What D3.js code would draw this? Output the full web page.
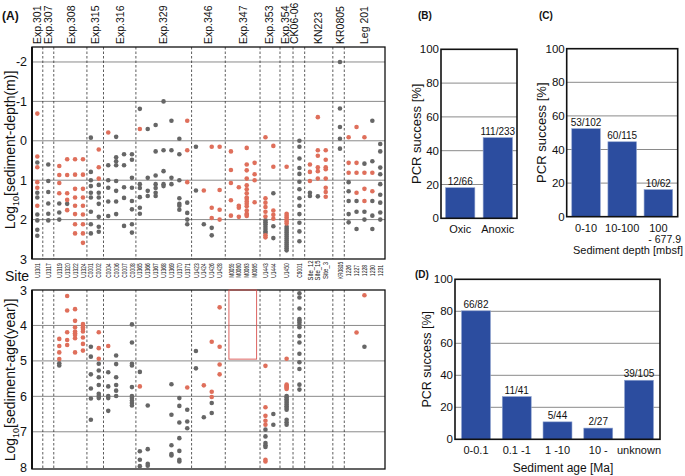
<!DOCTYPE html>
<html>
<head>
<meta charset="utf-8">
<script src="https://cdn.jsdelivr.net/npm/d3@7"></script>
<style>
body { margin: 0; background: #fff; }
text { font-family: "Liberation Sans", Arial, Helvetica, sans-serif; fill: #111; }
</style>
</head>
<body>
<div class="chart"></div>
<script>
// ---------- data ----------
const expeditions = ["Exp.301", "Exp.307", "Exp.308", "Exp.315", "Exp.316", "Exp.329", "Exp.346",
  "Exp.347", "Exp.353", "Exp.354", "CK06-06", "KN223", "KR0805", "Leg 201"];
const siteGroups = [
  ["U1301"], ["U1317"], ["U1319", "U1320", "U1322", "U1324"], ["C0001", "C0002"],
  ["C0004", "C0006", "C0007", "C0008"],
  ["U1365", "U1366", "U1367", "U1368", "U1369", "U1370", "U1371"],
  ["U1423", "U1424", "U1426", "U1428"], ["M0059", "M0060", "M0063", "M0065"],
  ["U1443", "U1444"], ["U1450"], ["C9001"], ["Site_12", "Site_15", "Site_3"], ["KR0805"],
  ["1226", "1227", "1228", "1230", "1231"]
];

// log10 sediment depth (m), red = positive, gray = negative
const depthRed = [
  ["U1301", [-0.69, 0.40, 0.67, 1.05, 1.19, 1.65]],
  ["U1319", [0.64, 0.87, 1.07, 1.33]],
  ["U1320", [0.47, 0.87, 1.33, 1.5, 1.76]],
  ["U1322", [0.47, 0.86, 1.22, 1.44, 1.65, 1.86, 2.12, 2.35]],
  ["U1324", [0.47, 0.86, 1.22, 1.44, 1.65, 1.87, 2.12, 2.35, 2.59]],
  ["C0002", [0.22, 0.67, 0.96]],
  ["C0004", [-0.21]],
  ["U1365", [-0.3]],
  ["U1371", [-0.51, 0.24, 1.05]],
  ["U1424", [1.26]],
  ["U1426", [0.15, 1.7, 1.96]],
  ["U1428", [0.15, 1.25, 1.75, 2.0]],
  ["M0059", [0.27, 0.74, 1.07, 1.51, 1.9]],
  ["M0060", [1.18, 1.65, 1.7, 1.93]],
  ["M0063", [0.18, 0.6, 0.75, 0.96, 1.13, 1.23, 1.33, 1.44, 1.48, 1.54, 1.6, 1.66, 1.77, 1.85, 1.88, 1.91]],
  ["M0065", [0.56, 0.85, 1.0, 1.56]],
  ["U1443", [-0.09, 1.46, 1.57, 1.68, 1.8, 1.92, 2.4, 2.45]],
  ["U1444", [0.13, 0.66, 1.77, 1.88, 1.98]],
  ["U1450", [0.66, 1.85, 1.9, 1.95, 2.0, 2.05, 2.1]],
  ["Site_12", [0.6, 0.79, 1.02]],
  ["Site_15", [-0.6, 0.24, 0.38, 0.67, 0.77, 0.96]],
  ["Site_3", [0.24, 0.48, 0.67, 0.72, 0.96, 1.19, 1.3, 1.42]],
  ["1226", [-0.09, 0.56, 0.81]],
  ["1227", [-0.35, 0.56, 0.81, 1.32]],
  ["1228", [-0.09, 0.81, 1.22, 1.53]],
  ["1230", [0.81, 1.28]]
];
const depthGray = [
  ["U1301", [0.55, 1.32, 1.44, 1.87, 2.02, 2.26, 2.41]],
  ["U1317", [0.60, 1.02, 1.30, 1.59, 1.85, 2.02]],
  ["U1319", [1.59, 1.82, 2.0]],
  ["U1320", [1.6]],
  ["C0001", [-0.08, 0.79, 1.0, 1.15, 1.32, 1.44, 1.8, 2.12, 2.35]],
  ["C0002", [1.12, 1.32, 1.44, 1.6, 1.93, 2.18, 2.31]],
  ["C0004", [0.62, 1.0, 1.19, 1.54, 1.91]],
  ["C0006", [-0.1, 0.42, 0.52, 0.62, 1.02, 1.27, 1.54, 1.86]],
  ["C0007", [0.34, 0.62, 1.18, 1.45, 2.16]],
  ["C0008", [0.34, 0.48, 0.94, 1.19, 1.53, 1.74, 2.12, 2.33]],
  ["U1365", [-0.81, 1.1, 1.2, 1.43, 1.7, 1.85]],
  ["U1366", [-0.3, 0.94, 1.27, 1.4]],
  ["U1367", [-0.4, 0.27, 0.88, 1.1, 1.2, 1.32, 1.4]],
  ["U1368", [-1.0, 0.24, 0.77, 1.1, 1.15]],
  ["U1369", [-0.51, 0.24, 0.94, 1.1]],
  ["U1370", [-0.05, 0.34, 1.0, 1.46, 1.6, 1.65, 1.75]],
  ["U1371", [1.57, 1.83, 2.0, 2.12]],
  ["U1423", [0.15, 1.26]],
  ["U1424", [2.12]],
  ["U1426", [2.21, 2.4]],
  ["U1443", [2.02, 2.07, 2.12, 2.18, 2.24, 2.3, 2.34]],
  ["U1444", [1.33, 2.17, 2.47]],
  ["U1450", [2.18, 2.23, 2.28, 2.33, 2.38, 2.43, 2.48, 2.53, 2.58, 2.63, 2.68, 2.73, 2.78]],
  ["C9001", [0.0, 0.15, 0.45, 0.69, 0.84, 1.04, 1.23, 1.46, 1.65, 1.86, 2.08, 2.3, 2.55]],
  ["Site_12", [1.32, 1.4]],
  ["Site_15", [1.41]],
  ["KR0805", [-2.0, -0.82, -0.35, -0.05, 0.2]],
  ["1226", [1.05, 1.28, 1.53, 1.86, 2.07]],
  ["1227", [1.53, 1.8, 2.24]],
  ["1228", [0.58, 1.8, 2.0]],
  ["1230", [-0.51, 0.52, 1.53, 1.9, 2.24]],
  ["1231", [0.08, 0.27, 0.68, 0.85, 1.1, 1.37, 1.57, 1.82, 2.0]]
];

// log10 sediment age (year)
const ageRed = [
  ["U1319", [4.38, 4.58, 4.76, 4.95]],
  ["U1320", [3.17, 3.58, 4.19, 4.41, 4.55]],
  ["U1322", [3.54, 3.87, 4.05, 4.17, 4.22, 4.27, 4.36, 4.76]],
  ["U1324", [3.96, 4.0, 4.05, 4.1, 4.17, 4.34, 4.52, 4.71]],
  ["C0002", [4.19, 4.64, 4.94]],
  ["C0004", [4.58]],
  ["U1365", [5.72]],
  ["U1371", [5.75]],
  ["U1424", [5.69]],
  ["U1426", [4.46, 5.87, 6.02]],
  ["U1428", [3.49, 4.6, 5.1, 5.38]],
  ["U1443", [5.14, 6.31, 6.55, 6.69, 6.8, 7.79, 7.84]],
  ["U1450", [4.94, 5.67, 5.7, 5.73, 5.76, 5.79]],
  ["1227", [4.2]],
  ["1228", [3.15]]
];
const ageGray = [
  ["U1319", [5.07, 5.13]],
  ["C0001", [4.6, 4.88, 5.38, 5.78, 6.06, 6.66]],
  ["C0002", [5.08, 5.27, 5.46, 5.68, 5.93, 5.99, 6.05]],
  ["C0004", [5.32, 5.72, 5.99, 6.05, 6.41]],
  ["C0006", [4.85, 5.09, 5.46, 5.68, 5.84, 5.99]],
  ["C0008", [3.97, 4.48, 5.08, 5.13, 5.74, 5.99, 6.05, 6.12, 6.19, 6.26]],
  ["U1365", [5.31, 7.55, 7.79, 7.97]],
  ["U1366", [6.26, 7.49, 7.9, 7.96]],
  ["U1369", [5.66, 6.52, 7.38, 7.63, 7.67]],
  ["U1370", [6.05, 6.27, 6.74, 7.18, 7.54, 7.79, 7.84]],
  ["U1371", [6.38, 6.71, 6.9]],
  ["U1423", [4.72, 5.21]],
  ["U1424", [6.59]],
  ["U1426", [6.19, 6.47]],
  ["U1443", [6.94, 7.13, 7.32, 7.38, 7.43]],
  ["U1444", [6.5, 6.8]],
  ["U1450", [5.99, 6.03, 6.08, 6.13, 6.18, 6.23, 6.28, 6.33, 6.38, 6.66, 6.73, 6.8]],
  ["C9001", [3.09, 3.21, 3.52, 3.82, 3.86, 3.92, 3.99, 4.05, 4.3, 4.48, 4.8, 5.04, 5.23, 5.67, 5.81]],
  ["1228", [4.6]]
];
const ageBoxSites = ["M0059", "M0065"];
const ageBoxRange = [3, 4.95];

// PCR success panels
const oxCats = ["Oxic", "Anoxic"];
const oxVals = [18.1, 47.7];
const oxLabels = ["12/66", "111/233"];
const dCats = ["0-10", "10-100", "100"];
const dVals = [52.4, 44.6, 16.1];
const dLabels = ["53/102", "60/115", "10/62"];
const aCats = ["0-0.1", "0.1 -1", "1 -10", "10 -", "unknown"];
const aVals = [80.3, 26.7, 10.9, 7.0, 36.9];
const aLabels = ["66/82", "11/41", "5/44", "2/27", "39/105"];
const pctTicks = [0, 20, 40, 60, 80, 100];

// ---------- layout ----------
const RED = '#df6f5b', GRAY = '#666666', BLUE = '#2c4d9f';
const GROUP_GAP = [0, 0.39, 0.39, 0, 0.2, 0, 0.1, 0.43, 0.37, 0.68, 0.62, 0.33, 0.8, 0.1];
const A = { left: 32, right: 385 };

const svg = d3.select('.chart').append('svg')
  .attr('width', 685).attr('height', 476);

// slot index for each site (groups separated by a small gap)
const slot = {};
let s = 0;
siteGroups.forEach((g, k) => {
  s += GROUP_GAP[k];
  g.forEach(site => { slot[site] = s; s += 1; });
});
const sMax = s - 1;
const x = d3.scaleLinear().domain([0, sMax]).range([37.3, 37.3 + 7.9 * sMax]);
const xs = site => x(slot[site]);

const yDepth = d3.scaleLinear().domain([-2.38, 3]).range([47, 259]);
const yAge = d3.scaleLinear().domain([3, 8.05]).range([290, 469]);

function panelA(y, grid, ticks) {
  const g = svg.append('g');
  const [y0, y1] = y.range();
  g.selectAll('.grid').data(grid).enter().append('line')
    .attr('x1', A.left).attr('x2', A.right)
    .attr('y1', d => y(d)).attr('y2', d => y(d))
    .attr('stroke', '#8a8a8a').attr('stroke-width', 1);
  // separators between expeditions
  const seps = siteGroups.slice(1).map((grp, k) => {
    const prev = siteGroups[k];
    return (xs(prev[prev.length - 1]) + xs(grp[0])) / 2;
  });
  g.selectAll('.sep').data(seps).enter().append('line')
    .attr('x1', d => d).attr('x2', d => d).attr('y1', y0).attr('y2', y1)
    .attr('stroke', '#333').attr('stroke-width', 0.8).attr('stroke-dasharray', '2.5,2');
  g.append('rect').attr('x', A.left).attr('y', y0)
    .attr('width', A.right - A.left).attr('height', y1 - y0)
    .attr('fill', 'none').attr('stroke', '#111').attr('stroke-width', 1.3);
  g.append('line').attr('x1', A.left).attr('x2', A.left).attr('y1', y0).attr('y2', y1)
    .attr('stroke', '#111').attr('stroke-width', 2);
  g.selectAll('.tk').data(ticks).enter().append('text')
    .attr('x', A.left - 5).attr('y', d => y(d)).attr('dy', '0.36em')
    .attr('text-anchor', 'end').style('font-size', '12.5px').text(d => d);
  return g;
}

function dots(g, series, y, color) {
  const pts = series.flatMap(([site, vals]) => vals.map(v => ({ site, v })));
  g.selectAll(null).data(pts).enter().append('circle')
    .attr('cx', d => xs(d.site)).attr('cy', d => y(d.v))
    .attr('r', 2.3).attr('fill', color);
}

const gTop = panelA(yDepth, [-2, -1, 0, 1, 2], [-2, -1, 0, 1, 2, 3]);
dots(gTop, depthGray, yDepth, GRAY);
dots(gTop, depthRed, yDepth, RED);

const gBot = panelA(yAge, [4, 5, 6, 7], [3, 4, 5, 6, 7, 8]);
gBot.append('rect')
  .attr('x', xs(ageBoxSites[0]) - 2).attr('y', yAge(ageBoxRange[0]))
  .attr('width', xs(ageBoxSites[1]) - xs(ageBoxSites[0]) + 4)
  .attr('height', yAge(ageBoxRange[1]) - yAge(ageBoxRange[0]))
  .attr('fill', 'none').attr('stroke', '#d9534f').attr('stroke-width', 0.9);
dots(gBot, ageGray, yAge, GRAY);
dots(gBot, ageRed, yAge, RED);

// expedition labels
const LABEL_NUDGE = { 'Exp.354': -1.5, 'CK06-06': -5.5 };
expeditions.forEach((e, k) => {
  const grp = siteGroups[k];
  const cx = (xs(grp[0]) + xs(grp[grp.length - 1])) / 2 + (LABEL_NUDGE[e] || 0);
  svg.append('text')
    .attr('transform', `translate(${cx},44) rotate(-90)`)
    .attr('dy', '0.36em').style('font-size', '10.5px').text(e);
});

// site labels
siteGroups.flat().forEach(site => {
  svg.append('text')
    .attr('transform', `translate(${xs(site)},270.5) rotate(-90)`)
    .attr('text-anchor', 'middle').attr('dy', '0.35em')
    .attr('textLength', site.length * 2.85).attr('lengthAdjust', 'spacingAndGlyphs')
    .style('font-size', '7.5px').text(site);
});
svg.append('text').attr('x', 5).attr('y', 281).style('font-size', '14px').text('Site');
svg.append('text').attr('x', 2).attr('y', 20).style('font-size', '12px')
  .style('font-weight', 'bold').text('(A)');

function logTitle(cx, cy, rest) {
  const t = svg.append('text')
    .attr('transform', `translate(${cx},${cy}) rotate(-90)`)
    .attr('text-anchor', 'middle').style('font-size', '14px');
  t.append('tspan').text('Log');
  t.append('tspan').attr('dy', 4).style('font-size', '9px').text('10');
  t.append('tspan').attr('dy', -4).text(rest);
}
logTitle(15, 150, '[sediment-depth(m)]');
logTitle(15, 380, '[sediment-age(year)]');

// ---------- bar panels ----------
function barPanel(o) {
  const g = svg.append('g');
  const xb = d3.scaleBand().domain(o.cats).range(o.xr)
    .paddingInner(o.pin).paddingOuter(o.pout);
  const yb = d3.scaleLinear().domain([0, 100]).range(o.yr);
  g.selectAll('.gl').data(pctTicks.slice(1, -1)).enter().append('line')
    .attr('x1', o.xr[0]).attr('x2', o.xr[1]).attr('y1', d => yb(d)).attr('y2', d => yb(d))
    .attr('stroke', '#8a8a8a');
  g.selectAll('.bar').data(o.vals).enter().append('rect')
    .attr('x', (d, i) => xb(o.cats[i])).attr('width', xb.bandwidth())
    .attr('y', d => yb(d)).attr('height', d => yb(0) - yb(d))
    .attr('fill', BLUE).attr('stroke', '#8fa3cf').attr('stroke-width', 0.6);
  g.selectAll('.vl').data(o.labels).enter().append('text')
    .attr('x', (d, i) => xb(o.cats[i]) + xb.bandwidth() / 2)
    .attr('y', (d, i) => yb(o.vals[i]) - 3)
    .attr('text-anchor', 'middle').style('font-size', '10px').text(d => d);
  g.append('rect').attr('x', o.xr[0]).attr('y', o.yr[1])
    .attr('width', o.xr[1] - o.xr[0]).attr('height', o.yr[0] - o.yr[1])
    .attr('fill', 'none').attr('stroke', '#111').attr('stroke-width', 1.6);
  g.selectAll('.yt').data(pctTicks).enter().append('text')
    .attr('x', o.xr[0] - 2).attr('y', d => yb(d)).attr('dy', '0.36em')
    .attr('text-anchor', 'end').style('font-size', '11.5px').text(d => d);
  g.selectAll('.xt').data(o.cats).enter().append('text')
    .attr('x', d => xb(d) + xb.bandwidth() / 2).attr('y', o.yr[0] + 15)
    .attr('text-anchor', 'middle').style('font-size', '11px').text(d => d);
  g.append('text')
    .attr('transform', `translate(${o.ytx},${(o.yr[0] + o.yr[1]) / 2}) rotate(-90)`)
    .attr('text-anchor', 'middle').style('font-size', o.tfs).text('PCR success [%]');
  svg.append('text').attr('x', o.tag[0]).attr('y', o.tag[1])
    .style('font-size', '10px').style('font-weight', 'bold').text(o.tagText);
  return { g, xb, yb };
}

barPanel({ cats: oxCats, vals: oxVals, labels: oxLabels, xr: [441, 517], yr: [218.3, 49.3],
  pin: 0.22, pout: 0.12, ytx: 421, tfs: '13px', tag: [418, 19], tagText: '(B)' });

barPanel({ cats: dCats, vals: dVals, labels: dLabels, xr: [566.7, 677.7], yr: [216.7, 48.7],
  pin: 0.21, pout: 0.14, ytx: 546, tfs: '13px', tag: [539, 19], tagText: '(C)' });
svg.append('text').attr('x', 681).attr('y', 243).attr('text-anchor', 'end')
  .style('font-size', '10.5px').text('- 677.9');
svg.append('text').attr('x', 683).attr('y', 254).attr('text-anchor', 'end')
  .style('font-size', '11px').text('Sediment depth [mbsf]');

barPanel({ cats: aCats, vals: aVals, labels: aLabels, xr: [455, 660], yr: [439.3, 279.3],
  pin: 0.29, pout: 0.16, ytx: 431, tfs: '12.5px', tag: [415, 278], tagText: '(D)' });
svg.append('text').attr('x', 563).attr('y', 472).attr('text-anchor', 'middle')
  .style('font-size', '12px').text('Sediment age [Ma]');
</script>
</body>
</html>
